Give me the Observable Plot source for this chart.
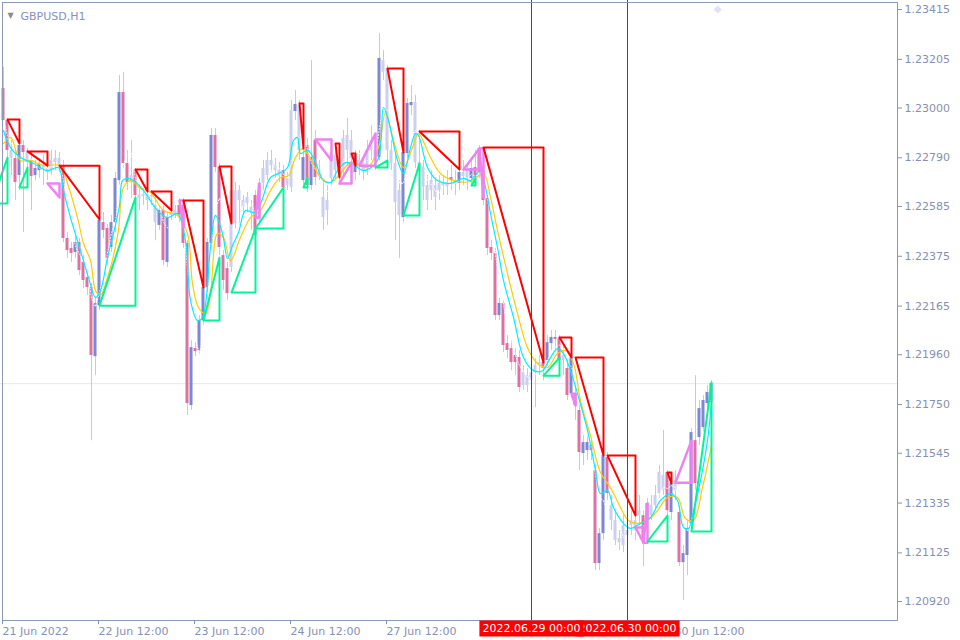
<!DOCTYPE html>
<html><head><meta charset="utf-8">
<script src="https://cdn.jsdelivr.net/npm/d3@7"></script>
<script src="https://cdn.jsdelivr.net/npm/@observablehq/plot@0.6"></script>
<style>body{margin:0;background:#fff}#chart{width:960px;height:640px}</style>
</head><body><div id="chart"></div>
<script>
// ---- GBPUSD H1 candles (bar 0 = 21 Jun 12:00) ----
const open = [
1.23082,1.22947,1.22821,1.22787,1.22715,1.22842,1.22812,1.22779,1.22715,1.22736,
1.22757,1.22745,1.22736,1.22770,1.22787,1.22757,1.22450,1.22408,1.22391,1.22433,
1.22349,1.22285,1.22243,1.21952,1.22167,1.22517,1.22492,1.22412,1.22517,1.22694,
1.23065,1.22766,1.22686,1.22736,1.22631,1.22627,1.22635,1.22618,1.22589,1.22505,
1.22568,1.22349,1.22559,1.22551,1.22589,1.22589,1.22429,1.21746,1.21986,1.21978,
1.22104,1.22243,1.22429,1.22884,1.22749,1.22378,1.22323,1.22328,1.22652,1.22610,
1.22610,1.22623,1.22581,1.22631,1.22526,1.22682,1.22715,1.22779,1.22757,1.22736,
1.22736,1.22673,1.22665,1.22985,1.23010,1.22694,1.22842,1.22673,1.22863,1.22715,
1.22623,1.22568,1.22703,1.22800,1.22736,1.22736,1.22821,1.22863,1.22728,1.22779,
1.22770,1.22745,1.22821,1.22821,1.22791,1.23200,1.23166,1.22821,1.22766,1.22652,
1.22538,1.22808,1.23010,1.23023,1.22770,1.22749,1.22673,1.22652,1.22673,1.22682,
1.22673,1.22686,1.22707,1.22694,1.22682,1.22728,1.22736,1.22703,1.22749,1.22829,
1.22736,1.22618,1.22412,1.22387,1.22125,1.22176,1.22007,1.21986,1.21957,1.21948,
1.21830,1.21872,1.21851,1.21885,1.21915,1.21927,1.21936,1.22007,1.22033,1.22028,
1.21936,1.21902,1.21796,1.21796,1.21725,1.21544,1.21556,1.21577,1.21472,1.21080,
1.21206,1.21527,1.21324,1.21261,1.21185,1.21240,1.21198,1.21240,1.21261,1.21282,
1.21282,1.21261,1.21282,1.21324,1.21375,1.21388,1.21464,1.21295,1.21388,1.21295,
1.21084,1.21114,1.21249,1.21598,1.21611,1.21653,1.21754,1.21759];
const high = [
1.23171,1.22956,1.22863,1.22821,1.22863,1.22863,1.22829,1.22821,1.22779,1.22787,
1.22800,1.22770,1.22821,1.22821,1.22812,1.22779,1.22475,1.22433,1.22458,1.22450,
1.22378,1.22307,1.22260,1.22197,1.22547,1.22559,1.22509,1.22547,1.22728,1.23137,
1.23150,1.22821,1.22863,1.22745,1.22673,1.22661,1.22661,1.22652,1.22631,1.22589,
1.22589,1.22559,1.22589,1.22589,1.22618,1.22618,1.22441,1.22020,1.22011,1.22125,
1.22264,1.22450,1.22913,1.22913,1.22766,1.22399,1.22349,1.22673,1.22686,1.22673,
1.22631,1.22644,1.22610,1.22652,1.22703,1.22779,1.22812,1.22821,1.22787,1.22770,
1.22757,1.22728,1.23032,1.23074,1.23032,1.22821,1.22871,1.23200,1.22905,1.22779,
1.22694,1.22673,1.22829,1.22850,1.22757,1.22905,1.22956,1.22905,1.22821,1.22821,
1.22800,1.22863,1.22926,1.22863,1.23314,1.23242,1.23179,1.22863,1.22800,1.22694,
1.22829,1.23040,1.23095,1.23053,1.22905,1.22779,1.22715,1.22736,1.22703,1.22715,
1.22715,1.22736,1.22757,1.22736,1.22757,1.22779,1.22757,1.22779,1.22821,1.22842,
1.22833,1.22631,1.22441,1.22408,1.22197,1.22189,1.22041,1.22020,1.21986,1.21978,
1.21915,1.21902,1.21936,1.21944,1.21957,1.21957,1.22041,1.22062,1.22062,1.22041,
1.21999,1.21936,1.21978,1.21830,1.21746,1.21619,1.21619,1.21598,1.21493,1.21228,
1.21548,1.21548,1.21367,1.21303,1.21219,1.21282,1.21261,1.21303,1.21295,1.21367,
1.21303,1.21354,1.21367,1.21409,1.21493,1.21641,1.21472,1.21438,1.21472,1.21324,
1.21156,1.21261,1.21649,1.21872,1.21767,1.21788,1.21830,1.21851];
const low = [
1.22939,1.22787,1.22715,1.22610,1.22652,1.22475,1.22736,1.22568,1.22694,1.22703,
1.22673,1.22694,1.22715,1.22736,1.22728,1.22433,1.22366,1.22349,1.22366,1.22294,
1.22239,1.22210,1.21598,1.21872,1.22146,1.22450,1.22336,1.22391,1.22475,1.22673,
1.22745,1.22652,1.22618,1.22589,1.22568,1.22589,1.22568,1.22589,1.22441,1.22484,
1.22336,1.22328,1.22526,1.22534,1.22517,1.22408,1.21704,1.21725,1.21952,1.21957,
1.22083,1.22222,1.22416,1.22728,1.22378,1.22231,1.22189,1.22307,1.22492,1.22505,
1.22547,1.22559,1.22484,1.22441,1.22505,1.22652,1.22694,1.22728,1.22703,1.22686,
1.22631,1.22652,1.22644,1.22947,1.22779,1.22673,1.22644,1.22652,1.22673,1.22694,
1.22484,1.22505,1.22673,1.22694,1.22673,1.22703,1.22757,1.22757,1.22694,1.22715,
1.22694,1.22715,1.22779,1.22736,1.22779,1.23116,1.22779,1.22736,1.22441,1.22366,
1.22517,1.22787,1.22968,1.22745,1.22703,1.22610,1.22568,1.22610,1.22568,1.22610,
1.22631,1.22631,1.22652,1.22631,1.22652,1.22673,1.22652,1.22673,1.22673,1.22703,
1.22589,1.22378,1.22357,1.22104,1.22104,1.21969,1.21944,1.21893,1.21872,1.21801,
1.21809,1.21801,1.21767,1.21738,1.21872,1.21851,1.21915,1.21978,1.21978,1.21915,
1.21872,1.21767,1.21775,1.21683,1.21472,1.21493,1.21514,1.21514,1.21050,1.21050,
1.21177,1.21346,1.21219,1.21156,1.21135,1.21126,1.21093,1.21198,1.21177,1.21240,
1.21067,1.21240,1.21261,1.21303,1.21354,1.21367,1.21282,1.21261,1.21346,1.21067,
1.20924,1.21029,1.21219,1.21388,1.21577,1.21632,1.21733,1.21746];
const close = [
1.22947,1.22821,1.22787,1.22686,1.22842,1.22812,1.22770,1.22711,1.22745,1.22762,
1.22745,1.22728,1.22779,1.22787,1.22757,1.22450,1.22399,1.22387,1.22433,1.22315,
1.22273,1.22243,1.21957,1.22176,1.22526,1.22484,1.22366,1.22517,1.22703,1.23065,
1.22766,1.22686,1.22715,1.22631,1.22618,1.22635,1.22610,1.22631,1.22517,1.22568,
1.22357,1.22538,1.22547,1.22568,1.22547,1.22429,1.21754,1.21990,1.21973,1.22104,
1.22243,1.22433,1.22884,1.22749,1.22412,1.22273,1.22218,1.22652,1.22513,1.22652,
1.22581,1.22597,1.22559,1.22462,1.22682,1.22745,1.22779,1.22757,1.22736,1.22715,
1.22665,1.22703,1.22989,1.23015,1.22821,1.22791,1.22673,1.22791,1.22707,1.22736,
1.22538,1.22610,1.22808,1.22736,1.22707,1.22871,1.22884,1.22787,1.22800,1.22757,
1.22736,1.22821,1.22863,1.22779,1.23209,1.23150,1.22821,1.22766,1.22602,1.22547,
1.22812,1.23019,1.23023,1.22770,1.22736,1.22665,1.22610,1.22694,1.22623,1.22652,
1.22686,1.22669,1.22694,1.22682,1.22728,1.22711,1.22694,1.22745,1.22707,1.22728,
1.22610,1.22408,1.22387,1.22125,1.22176,1.21999,1.21978,1.21927,1.21927,1.21822,
1.21885,1.21830,1.21885,1.21915,1.21927,1.21902,1.22011,1.22033,1.22024,1.21936,
1.21957,1.21788,1.21948,1.21746,1.21548,1.21590,1.21590,1.21556,1.21080,1.21206,
1.21535,1.21375,1.21261,1.21177,1.21168,1.21156,1.21219,1.21261,1.21219,1.21303,
1.21177,1.21333,1.21324,1.21367,1.21464,1.21451,1.21303,1.21417,1.21430,1.21084,
1.21122,1.21228,1.21632,1.21417,1.21733,1.21767,1.21801,1.21838];
// candle tone: p = bear highlight, b = bull highlight, l = neutral
const tone = "pplpbplpbb"+"lllllpppbp"+"pppbbppbbb"+"pplplllllb"+"pbllpppbpb"+"bbbpppplll"+
             "lllpllllll"+"pllblbpbpl"+"llllllllbl"+"llllblllll"+"bbblllllll"+"llplbllbpp"+
             "ppppbppppp"+"lllllpbbpp"+"lpbppbbppb"+"bpllllllll"+"pbllllpblp"+"bbbpbbbb";

// ---- moving averages (bar position, price) ----
const yellowAt = [0,1.75,4.25,6.75,10,14.25,16,18.5,20,21.75,23,24.25,25.75,27.5,28.75,30,31.75,34.25,36.75,40,
 43.5,46,47.25,48.75,50.5,51.75,53.5,55,56.75,59.25,61.75,64.25,66.75,69.25,71.25,73,74.75,76.75,79.25,81.75,
 84.25,86.75,91,93.75,95.5,97.5,100,102.25,103.75,106.75,109.25,112.5,116.75,120,121.75,123.5,126,128.5,131,133.5,
 136,138.5,140.5,142.5,144.25,146.75,149.25,151.75,154.25,156.25,158.5,161,163.5,166,168.5,170.5,172.5,174.75,177];
const yellowVal = [1.22850,1.22876,1.22779,1.22779,1.22757,1.22757,1.22682,1.22538,1.22429,1.22357,
 1.22231,1.22210,1.22273,1.22378,1.22484,1.22665,1.22694,1.22661,1.22644,1.22568,
 1.22547,1.22471,1.22260,1.22159,1.22134,1.22218,1.22471,1.22454,1.22357,1.22454,
 1.22538,1.22568,1.22652,1.22707,1.22715,1.22791,1.22829,1.22787,1.22707,1.22686,
 1.22724,1.22770,1.22749,1.22833,1.22981,1.22863,1.22749,1.22833,1.22892,1.22791,
 1.22724,1.22694,1.22690,1.22724,1.22623,1.22484,1.22302,1.22134,1.21990,1.21923,
 1.21906,1.21965,1.21978,1.21923,1.21767,1.21619,1.21464,1.21400,1.21316,1.21261,
 1.21249,1.21261,1.21303,1.21358,1.21358,1.21270,1.21261,1.21400,1.21577];
const cyanAt = [0,1.75,4.25,7.5,11,13.75,15,16.75,19.25,21.25,23,24.25,26,27.5,29,29.75,31,32.5,35,38.5,
 41,43.5,45.5,46.75,48.5,49.75,51.75,53,54.75,56,57.25,58.75,60.5,62.5,64.25,66.75,69.25,71,72.5,73.5,
 74.25,76,77.5,80,81.75,83.5,85.5,87.5,90,93.5,95,96.25,98.5,100,101.75,103,103.75,106,108.5,111.75,
 115,116.75,119.25,120.5,121.75,123.5,125,127.5,130,132.5,134.75,136.75,138.5,140,141.75,143.5,146,148,149.25,151,
 152.5,155,156.75,159.25,161.75,164.25,166.75,168.5,170,171.25,172.5,174.25,176,177];
const cyanVal = [1.22905,1.22833,1.22791,1.22766,1.22736,1.22749,1.22652,1.22538,1.22399,1.22285,
 1.22201,1.22231,1.22370,1.22471,1.22589,1.22694,1.22703,1.22694,1.22652,1.22568,
 1.22538,1.22555,1.22441,1.22189,1.22104,1.22117,1.22412,1.22547,1.22471,1.22366,
 1.22420,1.22475,1.22568,1.22559,1.22597,1.22707,1.22728,1.22749,1.22863,1.22876,
 1.22808,1.22821,1.22791,1.22694,1.22686,1.22736,1.22770,1.22762,1.22736,1.22779,
 1.23002,1.22947,1.22779,1.22724,1.22833,1.22892,1.22884,1.22749,1.22694,1.22682,
 1.22703,1.22694,1.22736,1.22665,1.22555,1.22412,1.22273,1.22117,1.21948,1.21893,
 1.21893,1.21948,1.21986,1.21965,1.21893,1.21796,1.21641,1.21472,1.21375,1.21388,
 1.21316,1.21249,1.21228,1.21249,1.21274,1.21346,1.21375,1.21346,1.21232,1.21228,
 1.21303,1.21430,1.21598,1.21759];

// ---- swing triangles [startBar, endBar, startPrice, endPrice] ----
const redSwings = [[1,4,1.22951,1.22850],[6,11,1.22817,1.22757],[14,24,1.22757,1.22530],[33,36,1.22741,1.22648],
 [37,42,1.22648,1.22568],[45,50,1.22610,1.22243],[54,57,1.22753,1.22513],[74,75,1.23019,1.22829],
 [83,84,1.22850,1.22707],[87,88,1.22808,1.22757],[96,100,1.23166,1.22812],[104,114,1.22901,1.22741],
 [120,135,1.22833,1.21927],[139,142,1.22033,1.21948],[143,150,1.21948,1.21535],[151,158,1.21535,1.21282],
 [166,167,1.21464,1.21417]];
const greenSwings = [[-3,1,1.22597,1.22791],[4,6,1.22665,1.22749],[24,33,1.22167,1.22623],[50,54,1.22104,1.22370],
 [57,63,1.22222,1.22492],[63,70,1.22492,1.22665],[75,76,1.22665,1.22707],[93,96,1.22749,1.22779],
 [100,104,1.22547,1.22766],[117,118,1.22673,1.22703],[135,139,1.21872,1.21948],[161,166,1.21173,1.21282],
 [172,177,1.21215,1.21843]];
const violetSwings = [[11,14,1.22682,1.22623],[44,45,1.22610,1.22496],[63,64,1.22538,1.22682],[78,82,1.22867,1.22779],
 [84,87,1.22682,1.22770],[89,93,1.22757,1.22892],[115,119,1.22741,1.22829],[119,120,1.22829,1.22623],
 [142,143,1.21796,1.21746],[158,160,1.21232,1.21168],[160,161,1.21168,1.21333],[168,172,1.21421,1.21598]];

// ---- axes ----
const priceTicks = [1.23415,1.23205,1.23000,1.22790,1.22585,1.22375,1.22165,1.21960,1.21750,1.21545,1.21335,1.21125,1.20920];
const timeTicks = [0,24,48,72,96,120,144,168];
// labels at bars 120 and 144 are hidden under the time-marker boxes in the reference
const timeLabels = ["21 Jun 2022","22 Jun 12:00","23 Jun 12:00","24 Jun 12:00","27 Jun 12:00","","","30 Jun 12:00"];
const markerBars = [156,132];
const markerLabels = ["2022.06.30 00:00","2022.06.29 00:00"];
const shiftBar = [178.5];

const bars = d3.range(close.length);
const toneColor = {p:"#dc72a3", b:"#7d87d2", l:"#cbd0ef"};
const tri = (list) => list.flatMap(([a,b,p,q],k) => [
  {k,x:a,y:p},{k,x:b,y:p},{k,x:b,y:q},{k,x:a,y:p}]);
const yellow = yellowAt.map((x,i)=>({x, y:yellowVal[i]}));
const cyan = cyanAt.map((x,i)=>({x, y:cyanVal[i]}));
const axisColor = "#8690b2";
const fmt = d3.format(".5f");
const last = close[close.length-1];

const chart = Plot.plot({
  width: 960, height: 640,
  marginLeft: 0, marginRight: 63, marginTop: 0, marginBottom: 20,
  x: {domain: [-0.75, 223.5]},
  y: {domain: [1.20840, 1.23453]},
  style: {fontFamily: "DejaVu Sans", fontSize: "11px", background: "#fff", overflow: "visible"},
  marks: [
    Plot.ruleY([last], {stroke: "#e3e6f5"}),
    Plot.ruleX(bars, {x: i=>i, y1: i=>low[i], y2: i=>high[i], stroke: "#c6c9e0", strokeWidth: 1}),
    Plot.rect(bars, {x1: i=>i-0.375, x2: i=>i+0.375, y1: i=>open[i], y2: i=>close[i], fill: i=>toneColor[tone[i]]}),
    Plot.line(close, Plot.windowY({k: 4, anchor: "end"}, {x: (d,i)=>i, y: d=>d, stroke: "#ffffff", strokeWidth: 1, strokeDasharray: "1 2"})),
    Plot.line(yellow, {x: "x", y: "y", stroke: "#ffcc00", strokeWidth: 1.2, curve: "catmull-rom"}),
    Plot.line(cyan, {x: "x", y: "y", stroke: "#00eeff", strokeWidth: 1.2, curve: "catmull-rom"}),
    Plot.line(tri(violetSwings), {x: "x", y: "y", z: "k", stroke: "#ee82ee", strokeWidth: 2.5}),
    Plot.line(tri(greenSwings), {x: "x", y: "y", z: "k", stroke: "#00f596", strokeWidth: 2}),
    Plot.line(tri(redSwings), {x: "x", y: "y", z: "k", stroke: "#ff0000", strokeWidth: 2}),
    Plot.ruleX(markerBars, {x: d=>d, stroke: "#ff0000", strokeWidth: 1}),
    Plot.frame({stroke: "#8e98b8", insetLeft: 2, insetTop: 2}),
    Plot.text(shiftBar, {x: d=>d, frameAnchor: "top", dy: 4, text: ()=>"\u25C6", fill: "#dfe2f3", fontSize: 10}),
    Plot.axisY(priceTicks, {anchor: "right", tickSize: 4, tickPadding: 3, tickFormat: fmt, color: axisColor, label: null, fontSize: 11}),
    Plot.axisX(timeTicks, {anchor: "bottom", tickSize: 4, tickPadding: 3, tickFormat: d=>timeLabels[timeTicks.indexOf(d)], textAnchor: "start", dx: -1, color: axisColor, label: null, fontSize: 11}),
    Plot.text(markerBars, {x: d=>d, frameAnchor: "bottom", dy: 11, text: (d,i)=>markerLabels[i], fill: "#ffffff", fontSize: 11}),
    Plot.text([last], {y: d=>d, frameAnchor: "right", textAnchor: "start", dx: 7, text: d=>fmt(d), fill: "#ffffff", fontSize: 11}),
    Plot.text(["GBPUSD,H1"], {frameAnchor: "top-left", dx: 20, dy: 12, textAnchor: "start", fill: "#8790bd", fontSize: 11}),
    Plot.text(["\u25BC"], {frameAnchor: "top-left", dx: 7, dy: 12, textAnchor: "start", fill: "#8c8c8c", fontSize: 8})
  ]
});
document.getElementById("chart").appendChild(chart);

// background boxes behind the marker time labels and the bid price label
const svgNS = "http://www.w3.org/2000/svg";
d3.select(chart).selectAll("text").each(function() {
  const t = this.textContent;
  let fill = null, padL = 3, padR = 3;
  if (markerLabels.includes(t)) fill = "#ff0000";
  else if (t === fmt(last) && this.getAttribute("fill") === "#ffffff") { fill = "#8e96b5"; padL = 6; padR = 4; }
  if (!fill) return;
  const b = this.getBBox();
  const r = document.createElementNS(svgNS, "rect");
  r.setAttribute("x", b.x - padL); r.setAttribute("y", b.y - 1);
  r.setAttribute("width", b.width + padL + padR); r.setAttribute("height", b.height + 3);
  r.setAttribute("fill", fill);
  const tr = this.getAttribute("transform"); if (tr) r.setAttribute("transform", tr);
  this.parentNode.insertBefore(r, this);
});
</script></body></html>
